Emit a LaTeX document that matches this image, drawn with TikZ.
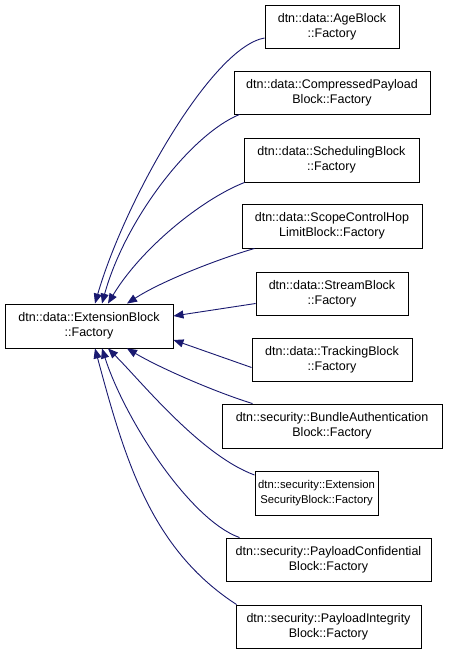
\documentclass[tikz,border=0pt]{standalone}
\usepackage{fontspec}
\setmainfont{Liberation Sans}
\usetikzlibrary{arrows.meta}
\definecolor{edgeblue}{HTML}{191970}
\tikzset{
  cls/.style={draw=black, line width=0.9pt, fill=white, align=center, inner sep=0pt,
    font=\fontsize{12.5}{15}\selectfont},
  inh/.style={draw=edgeblue, line width=0.9pt, -{Triangle[length=10pt,width=8pt]}},
}
\begin{document}
\begin{tikzpicture}[x=1pt,y=-1pt]
\useasboundingbox[fill=white] (0,0) rectangle (448,653);
\node[cls, minimum width=168pt, minimum height=44pt] (base) at (89,326) {dtn::data::ExtensionBlock\\::Factory};
\node[cls, minimum width=134pt, minimum height=43pt] (age) at (332,26.5) {dtn::data::AgeBlock\\::Factory};
\node[cls, minimum width=196pt, minimum height=43pt] (comp) at (332,92.5) {dtn::data::CompressedPayload\\Block::Factory};
\node[cls, minimum width=175pt, minimum height=44pt] (sched) at (331.5,160) {dtn::data::SchedulingBlock\\::Factory};
\node[cls, minimum width=180pt, minimum height=44pt] (scope) at (332,226) {dtn::data::ScopeControlHop\\LimitBlock::Factory};
\node[cls, minimum width=152pt, minimum height=43pt] (stream) at (332,293.5) {dtn::data::StreamBlock\\::Factory};
\node[cls, minimum width=160pt, minimum height=43pt] (track) at (332,359.5) {dtn::data::TrackingBlock\\::Factory};
\node[cls, minimum width=220pt, minimum height=44pt] (bundle) at (332,426) {dtn::security::BundleAuthentication\\Block::Factory};
\node[cls, minimum width=123pt, minimum height=44pt, font=\fontsize{11.3}{15}\selectfont] (extsec) at (316.5,493) {dtn::security::Extension\\SecurityBlock::Factory};
\node[cls, minimum width=205pt, minimum height=43pt] (pconf) at (328.5,559.5) {dtn::security::PayloadConfidential\\Block::Factory};
\node[cls, minimum width=185pt, minimum height=43pt] (pint) at (328.5,626.5) {dtn::security::PayloadIntegrity\\Block::Factory};

\draw[inh] ([yshift=-11.5pt]age.west) .. controls (212,47) and (125,200) .. ([xshift=6pt]base.north);
\draw[inh] ([xshift=6pt]comp.south west) .. controls (190,135) and (125,220) .. ([xshift=13pt]base.north);
\draw[inh] ([xshift=1pt]sched.south west) .. controls (200,200) and (140,250) .. ([xshift=19pt]base.north);
\draw[inh] ([xshift=13pt]scope.south west) .. controls (215,260) and (160,282) .. ([xshift=38pt]base.north);
\draw[inh] ([yshift=-10pt]stream.west) -- ([yshift=10pt]base.east);
\draw[inh] ([yshift=-8pt]track.west) -- ([yshift=-14pt]base.east);
\draw[inh] ([xshift=31pt]bundle.north west) .. controls (215,392) and (160,368) .. ([xshift=38pt]base.south);
\draw[inh] ([yshift=18pt]extsec.west) .. controls (200,455) and (140,380) .. ([xshift=19pt]base.south);
\draw[inh] ([xshift=14pt]pconf.north west) .. controls (190,520) and (125,420) .. ([xshift=13pt]base.south);
\draw[inh] ([xshift=1pt]pint.north west) .. controls (151,549) and (125,460) .. ([xshift=6pt]base.south);
\end{tikzpicture}
\end{document}
